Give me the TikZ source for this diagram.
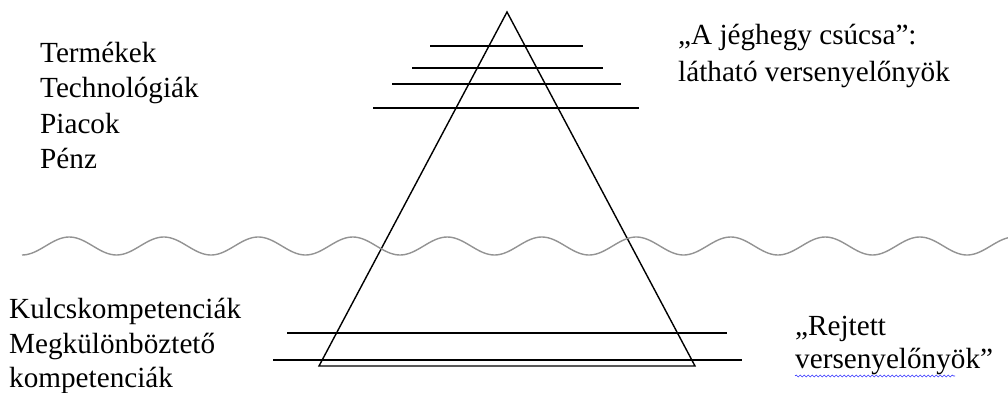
\documentclass[tikz,border=0pt]{standalone}
\usepackage{fontspec}
\setmainfont{LiberationSerif}[Extension=.ttf,UprightFont=*-Regular]
\usetikzlibrary{decorations.pathmorphing}
\begin{document}
\begin{tikzpicture}[x=1pt,y=-1pt,
  lbl/.style={anchor=base west,inner sep=0pt,font=\fontsize{29.2}{33}\selectfont},
  bar/.style={line width=1.5pt,black},
  side/.style={line width=1.4pt,black}]
\useasboundingbox (0,0) rectangle (1008,393);
% pyramid
\coordinate (apex) at (507,12);
\coordinate (bl) at (319,366);
\coordinate (br) at (695,366);
\draw[side] (bl) -- (apex) -- (br) -- cycle;
% top bars
\coordinate (t1l) at (430,46); \coordinate (t1r) at (583,46);
\coordinate (t2l) at (412,68);   \coordinate (t2r) at (603,68);
\coordinate (t3l) at (392,84);   \coordinate (t3r) at (621,84);
\coordinate (t4l) at (373,108);\coordinate (t4r) at (639,108);
\draw[bar] (t1l) -- (t1r);
\draw[bar] (t2l) -- (t2r);
\draw[bar] (t3l) -- (t3r);
\draw[bar] (t4l) -- (t4r);
% bottom bars
\coordinate (b1l) at (287,333); \coordinate (b1r) at (727,333);
\coordinate (b2l) at (273,360); \coordinate (b2r) at (742,360);
\draw[bar] (b1l) -- (b1r);
\draw[bar] (b2l) -- (b2r);
% water line
\draw[gray!85,line width=1.4pt] plot[domain=22:1008,samples=400,smooth] (\x,{246+9*sin(((\x-22)/94.5)*360+90)});
% texts
\node[lbl] (t1) at (40,63) {Termékek};
\node[lbl] (t2) at (40,98) {Technológiák};
\node[lbl] (t3) at (40,133) {Piacok};
\node[lbl] (t4) at (40,168) {Pénz};
\node[lbl] (r1) at (678,45) {„A jéghegy csúcsa”:};
\node[lbl] (r2) at (678,82) {látható versenyelőnyök};
\node[lbl] (k1) at (9,318) {Kulcskompetenciák};
\node[lbl] (k2) at (9,353) {Megkülönböztető};
\node[lbl] (k3) at (9,387) {kompetenciák};
\node[lbl] (h1) at (795,335) {„Rejtett};
\node[lbl] (h2) at (795,368) {versenyelőnyök”};
\draw[blue!80,line width=0.6pt,decorate,decoration={snake,amplitude=1pt,segment length=4pt}]
  (h2.base west) ++(0,8) -- ++(160,0);
\end{tikzpicture}
\end{document}
